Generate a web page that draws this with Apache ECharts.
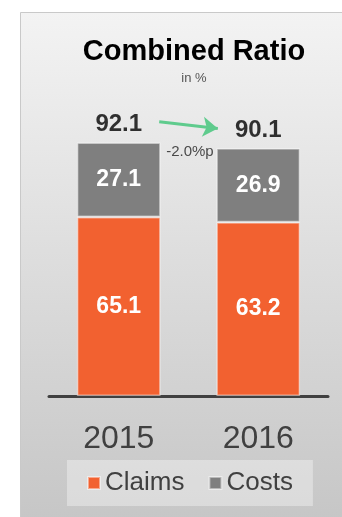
<!DOCTYPE html>
<html>
<head>
<meta charset="utf-8">
<script src="https://cdn.jsdelivr.net/npm/echarts@6/dist/echarts.min.js"></script>
<style>
  html, body { margin: 0; padding: 0; background: #fff; }
  #main { width: 342px; height: 517px; }
</style>
</head>
<body>
<div id="main"></div>
<script>
const years = ['2015', '2016']
const claims = [65.1, 63.2]
const costs = [27.1, 26.9]
const totals = [92.1, 90.1]
const changeText = '-2.0%p'

const chart = echarts.init(document.getElementById('main'))
const font = 'Liberation Sans, Arial, sans-serif'

chart.setOption({
  animation: false,
  textStyle: { fontFamily: font },
  graphic: [
    {
      type: 'rect',
      z: -10,
      shape: { x: 20.5, y: 12.5, width: 330, height: 510 },
      style: {
        fill: new echarts.graphic.LinearGradient(0, 0, 0, 1, [
          { offset: 0, color: '#f3f3f3' },
          { offset: 1, color: '#c6c6c6' }
        ]),
        stroke: '#c9c9c9',
        lineWidth: 1
      }
    }
  ],
  title: {
    text: 'Combined Ratio',
    subtext: 'in %',
    left: 189,
    top: 32,
    textAlign: 'center',
    itemGap: 6,
    textStyle: { fontSize: 29, fontWeight: 'bold', color: '#000', fontFamily: font },
    subtextStyle: { fontSize: 13, color: '#555', fontFamily: font }
  },
  legend: {
    data: ['Claims', 'Costs'],
    left: 67,
    top: 460,
    padding: [10, 20],
    backgroundColor: 'rgba(255,255,255,0.35)',
    itemWidth: 12,
    itemHeight: 12,
    itemGap: 24,
    icon: 'rect',
    textStyle: { fontSize: 26, color: '#404040', fontFamily: font }
  },
  grid: { left: 49, right: 14, top: 121, bottom: 121 },
  xAxis: [
    {
      type: 'category',
      data: years,
      axisLine: { lineStyle: { color: '#404040', width: 3 } },
      axisTick: { show: false },
      axisLabel: { fontSize: 32, color: '#404040', margin: 27, fontFamily: font }
    },
    // hidden value axis so the change arrow can sit between the bars
    { type: 'value', min: -0.5, max: 1.5, show: false }
  ],
  yAxis: { type: 'value', min: 0, max: 100, show: false },
  series: [
    {
      name: 'Claims',
      type: 'bar',
      stack: 'cr',
      barWidth: '60%',
      data: claims,
      itemStyle: { color: '#f26130', borderColor: 'rgba(255,255,255,0.45)', borderWidth: 1.5 },
      label: { show: true, position: 'inside', color: '#fff', fontSize: 23, fontWeight: 'bold', fontFamily: font }
    },
    {
      name: 'Costs',
      type: 'bar',
      stack: 'cr',
      data: costs,
      itemStyle: { color: '#7f7f7f', borderColor: 'rgba(255,255,255,0.45)', borderWidth: 1.5 },
      label: { show: true, position: 'inside', color: '#fff', fontSize: 23, fontWeight: 'bold', fontFamily: font }
    },
    {
      name: 'Total',
      type: 'scatter',
      symbolSize: 0,
      silent: true,
      data: totals,
      label: {
        show: true,
        position: 'top',
        distance: 6,
        color: '#000',
        fontSize: 24,
        fontWeight: 'bold',
        fontFamily: font
      }
    },
    {
      name: 'Change',
      type: 'scatter',
      xAxisIndex: 1,
      symbolSize: 0,
      silent: true,
      data: [[0.51, 88.7]],
      label: { show: true, position: 'inside', color: '#222', fontSize: 15, fontFamily: font, formatter: changeText },
      markLine: {
        silent: true,
        symbol: ['none', 'arrow'],
        symbolSize: 15,
        lineStyle: { color: '#5fcb8d', width: 3, type: 'solid' },
        label: { show: false },
        data: [[{ coord: [0.29, 99.7] }, { coord: [0.71, 97.3] }]]
      }
    }
  ]
})
</script>
</body>
</html>
